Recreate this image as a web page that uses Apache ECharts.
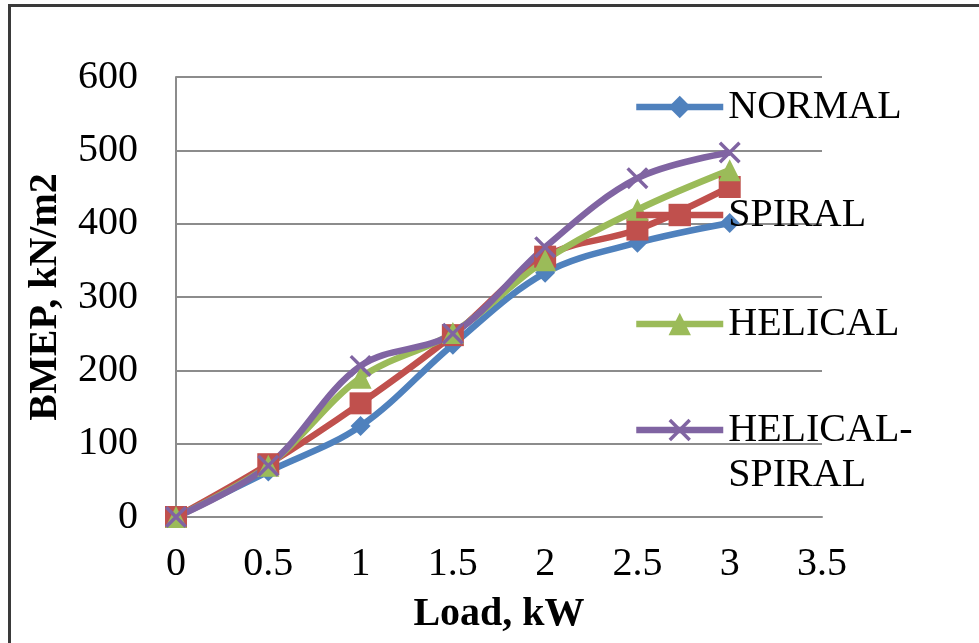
<!DOCTYPE html>
<html>
<head>
<meta charset="utf-8">
<script src="https://cdn.jsdelivr.net/npm/echarts@6/dist/echarts.min.js"></script>
<style>
  html, body { margin: 0; padding: 0; background: #ffffff; }
  #chart { width: 979px; height: 643px; }
</style>
</head>
<body>
<div id="chart"></div>
<script>
// ---- data ----
const loads = [0, 0.5, 1, 1.5, 2, 2.5, 3];
const normal = [0, 62, 124, 235, 333, 374, 401];
const spiral = [0, 72, 155, 248, 355, 392, 450];
const helical = [0, 70, 190, 251, 350, 419, 473];
const helicalSpiral = [0, 70, 206, 250, 368, 462, 497];
const seriesNames = ['NORMAL', 'SPIRAL', 'HELICAL', 'HELICAL-SPIRAL'];
const xTitle = 'Load, kW';
const yTitle = 'BMEP, kN/m2';

const colors = ['#4F81BD', '#C0504D', '#9BBB59', '#8064A2'];
const crossPath = 'path://M0,1.1 L1.1,0 L10,8.9 L8.9,10 Z M8.9,0 L10,1.1 L1.1,10 L0,8.9 Z';
const symbols = ['diamond', 'rect', 'triangle', crossPath];
const symbolSizes = [20, 22, 22, 22];
const values = [normal, spiral, helical, helicalSpiral];

const FONT = 'Liberation Serif';
const chart = echarts.init(document.getElementById('chart'), null, { renderer: 'canvas' });

function pairs(arr) { return loads.map((x, i) => [x, arr[i]]); }

const series = seriesNames.map((name, i) => ({
  name: name,
  type: 'line',
  data: pairs(values[i]),
  smooth: 0.35,
  symbol: symbols[i],
  symbolSize: symbolSizes[i],
  showSymbol: true,
  lineStyle: { color: colors[i], width: 6.5 },
  itemStyle: { color: colors[i] },
  emphasis: { disabled: true },
  animation: false
}));

const legendCenters = [105, 213, 322, 430];
const legends = seriesNames.map((name, i) => {
  const multi = name === 'HELICAL-SPIRAL';
  return {
    data: [name],
    orient: 'vertical',
    left: 633,
    top: multi ? legendCenters[i] - 67.5 : legendCenters[i] - 18,
    padding: 0,
    itemWidth: 87,
    itemHeight: 28,
    itemGap: 0,
    selectedMode: false,
    lineStyle: { width: 6.5 },
    formatter: multi ? ' \nHELICAL-\nSPIRAL' : '{name}',
    textStyle: multi
      ? { fontFamily: FONT, fontSize: 40, color: '#000', lineHeight: 45 }
      : { fontFamily: FONT, fontSize: 40, color: '#000', lineHeight: 36 }
  };
});

const option = {
  backgroundColor: '#ffffff',
  animation: false,
  grid: { left: 176, right: 157, top: 77, bottom: 126, containLabel: false },
  xAxis: {
    type: 'value',
    min: 0, max: 3.5, interval: 0.5,
    name: xTitle,
    nameLocation: 'middle',
    nameGap: 78,
    nameTextStyle: { fontFamily: FONT, fontSize: 40, fontWeight: 'bold', color: '#000' },
    axisLine: { show: true, lineStyle: { color: '#8c8c8c', width: 2 } },
    axisTick: { show: false },
    splitLine: { show: false },
    axisLabel: { fontFamily: FONT, fontSize: 40, color: '#000', margin: 27 }
  },
  yAxis: {
    type: 'value',
    min: 0, max: 600, interval: 100,
    name: yTitle,
    nameLocation: 'middle',
    nameGap: 110,
    nameTextStyle: { fontFamily: FONT, fontSize: 40, fontWeight: 'bold', color: '#000' },
    axisLine: { show: true, lineStyle: { color: '#8c8c8c', width: 2 } },
    axisTick: { show: false },
    splitLine: { show: true, lineStyle: { color: '#8c8c8c', width: 2 } },
    axisLabel: { fontFamily: FONT, fontSize: 40, color: '#000', margin: 38 }
  },
  legend: legends,
  series: series,
  graphic: [{
    type: 'rect',
    silent: true,
    z: 100,
    shape: { x: 9.5, y: 5.5, width: 1100, height: 800 },
    style: { fill: 'none', stroke: '#3a3a3a', lineWidth: 3 }
  }]
};

chart.setOption(option);
</script>
</body>
</html>
